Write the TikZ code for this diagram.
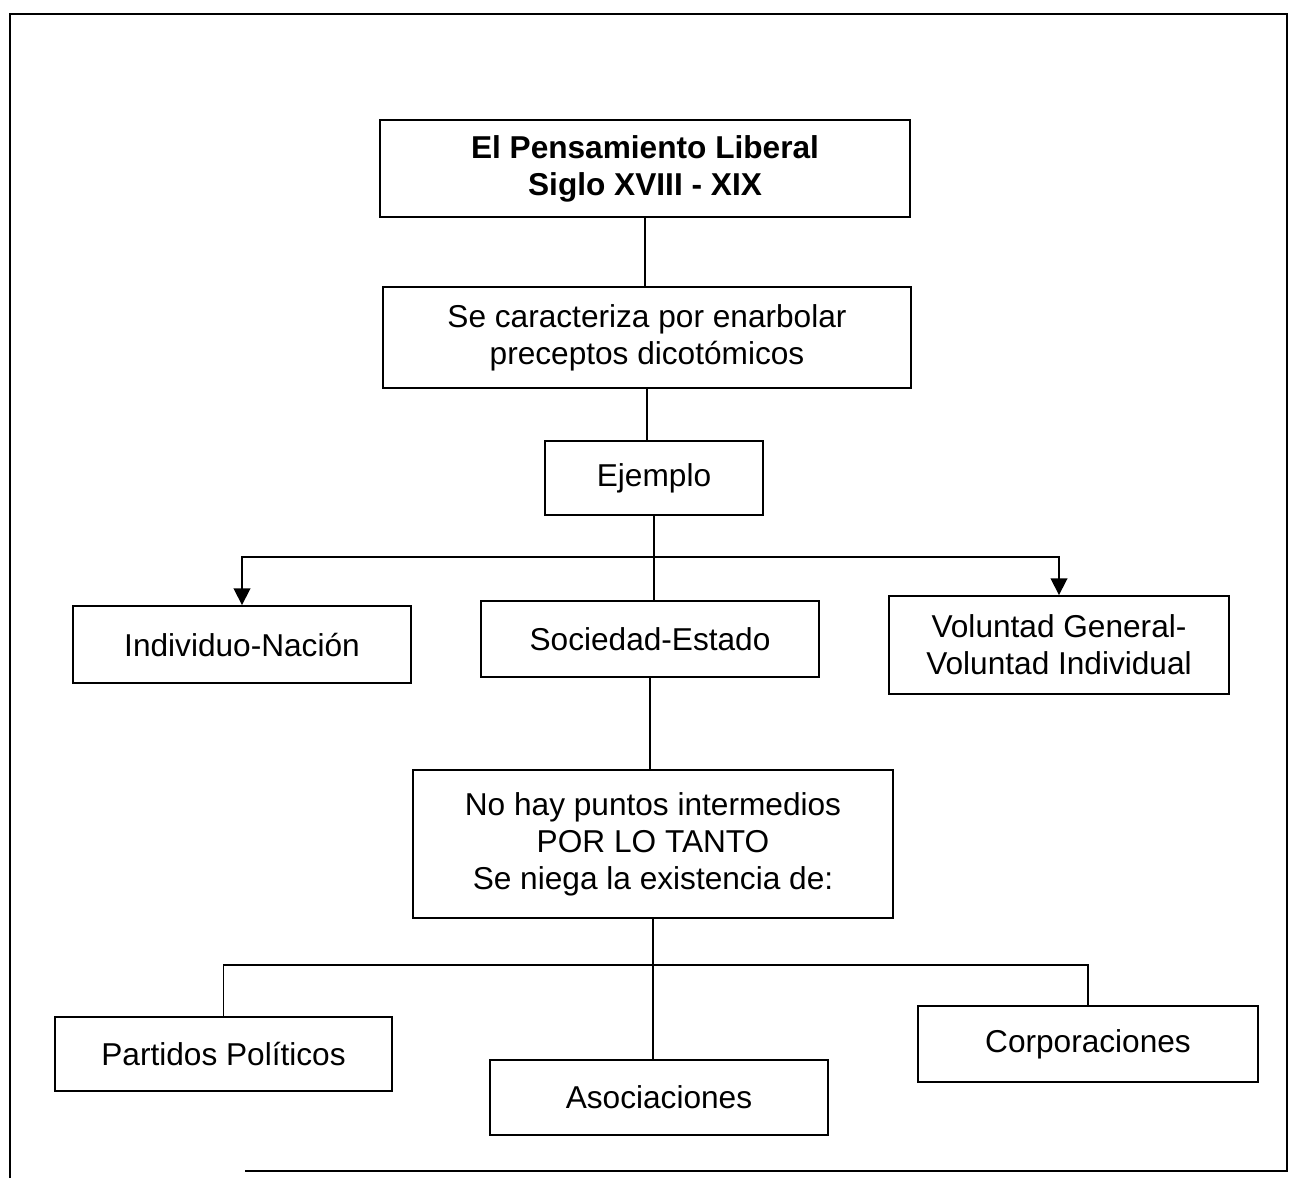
\documentclass[tikz,border=0pt]{standalone}
\usepackage{fontspec}
\setmainfont{Liberation Sans}
\usetikzlibrary{arrows.meta}
\begin{document}
\begin{tikzpicture}[x=0.02cm,y=-0.02cm,
  box/.style={draw, line width=1.1pt, inner sep=0pt, align=center,
    font=\fontsize{18}{21}\selectfont},
  link/.style={line width=1pt},
  arrowlink/.style={line width=1pt, -{Triangle[length=9.5pt,width=9.5pt]}}]
\useasboundingbox (0,0) rectangle (1292,1178);

% outer frame (open at the lower left)
\draw[line width=1pt] (10,1178) -- (10,14) -- (1287,14) -- (1287,1171) -- (245,1171);

% boxes
\node[box, minimum width=10.6cm, minimum height=1.94cm] (title) at (645,168.5)
  {\bfseries El Pensamiento Liberal\\\bfseries Siglo XVIII - XIX};
\node[box, minimum width=10.56cm, minimum height=2.02cm] (carac) at (647,337.5)
  {Se caracteriza por enarbolar\\preceptos dicotómicos};
\node[box, minimum width=4.36cm, minimum height=1.48cm] (ejemplo) at (654,478)
  {Ejemplo};
\node[box, minimum width=6.76cm, minimum height=1.54cm] (indiv) at (242,644.5)
  {Individuo-Nación};
\node[box, minimum width=6.76cm, minimum height=1.52cm] (socied) at (650,639)
  {Sociedad-Estado};
\node[box, minimum width=6.8cm, minimum height=1.96cm] (volunt) at (1059,645)
  {Voluntad General-\\Voluntad Individual};
\node[box, minimum width=9.62cm, minimum height=2.96cm] (nohay) at (653,844)
  {No hay puntos intermedios\\POR LO TANTO\\Se niega la existencia de:};
\node[box, minimum width=6.74cm, minimum height=1.48cm] (partidos) at (223.5,1054)
  {Partidos Políticos};
\node[box, minimum width=6.76cm, minimum height=1.5cm] (asoc) at (659,1097.5)
  {Asociaciones};
\node[box, minimum width=6.8cm, minimum height=1.52cm] (corp) at (1088,1044)
  {Corporaciones};

% bus coordinates
\coordinate (busA) at (654,557);
\coordinate (busB) at (653,965);

% connectors
\draw[link] (title.south) -- (title.south |- carac.north);
\draw[link] (carac.south) -- (carac.south |- ejemplo.north);
\draw[link] (ejemplo.south) -- (ejemplo.south |- socied.north);
\draw[arrowlink] (busA) -| (indiv.north);
\draw[arrowlink] (busA) -| (volunt.north);
\draw[link] (socied.south) -- (socied.south |- nohay.north);
\draw[link] (nohay.south) -- (nohay.south |- asoc.north);
\draw[link] (busB) -| (partidos.north);
\draw[link] (busB) -| (corp.north);
\end{tikzpicture}
\end{document}
